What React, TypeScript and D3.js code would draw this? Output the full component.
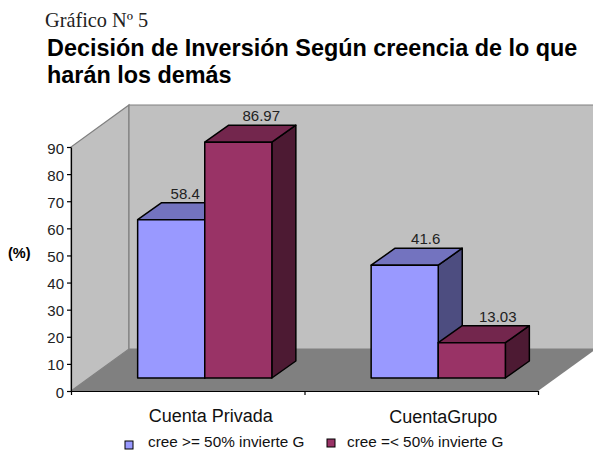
import React, { useEffect, useRef } from "react";
import * as d3 from "d3";

const categories = ["Cuenta Privada", "CuentaGrupo"];
const seriesNames = ["cree >= 50% invierte G", "cree =< 50% invierte G"];
const privada = [58.4, 86.97];
const grupo = [41.6, 13.03];
const yTicks = [0, 10, 20, 30, 40, 50, 60, 70, 80, 90];
const frontColors = ["#9999ff", "#993366"];
const topColors = ["#7373bf", "#73264d"];
const sideColors = ["#4d4d80", "#4d1a33"];

const sans = "'Liberation Sans', Arial, sans-serif";

export default function App() {
  const ref = useRef<SVGSVGElement>(null);

  useEffect(() => {
    const svg = d3.select(ref.current);
    svg.selectAll("*").remove();

    const y = d3.scaleLinear().domain([0, 90]).range([391, 147]);
    const x0 = d3.scaleBand().domain(categories).range([71, 538]);
    const x1 = d3
      .scaleBand()
      .domain(seriesNames)
      .range([0, x0.bandwidth()])
      .paddingInner(0)
      .paddingOuter(0.74);

    // wall depth and bar depth
    const wallDx = 58;
    const wallDy = 42;
    const barDx = 24;
    const barDy = 17;
    const baseDx = 17;
    const baseDy = 13;

    const x = 71;
    const r = 538;
    const top = y(90);
    const bot = y(0);
    const line = d3.line();

    // side wall, back wall, floor
    svg.append("path")
      .attr("d", line([[x, bot], [x, top], [x + wallDx, top - wallDy], [x + wallDx, bot - wallDy]]) + "Z")
      .attr("fill", "#c0c0c0")
      .attr("stroke", "#808080")
      .attr("stroke-width", 1.2);
    svg.append("path")
      .attr("d", line([[x + wallDx, bot - wallDy], [x + wallDx, top - wallDy], [r + wallDx, top - wallDy], [r + wallDx, bot - wallDy]]) + "Z")
      .attr("fill", "#c0c0c0")
      .attr("stroke", "#808080")
      .attr("stroke-width", 1.2);
    svg.append("path")
      .attr("d", line([[x, bot], [x + wallDx, bot - wallDy], [r + wallDx, bot - wallDy], [r, bot]]) + "Z")
      .attr("fill", "#808080");

    // bars
    const rows = [privada, grupo];
    const bars = svg.append("g").attr("stroke", "#000").attr("stroke-width", 1.5).attr("stroke-linejoin", "round");
    const labels = svg.append("g");
    // labels do not sit centred on the bar top in the original
    const labelShift = [[-10, -1], [-3, 2]];
    categories.forEach((cat, c) => {
      rows[c].forEach((v, s) => {
        const left = (x0(cat) as number) + (x1(seriesNames[s]) as number) + baseDx;
        const w = x1.bandwidth();
        const yTop = y(v) - baseDy;
        const yBase = y(0) - baseDy;
        const g = bars.append("g");
        g.append("path")
          .attr("d", line([[left + w, yTop], [left + w + barDx, yTop - barDy], [left + w + barDx, yBase - barDy], [left + w, yBase]]) + "Z")
          .attr("fill", sideColors[s]);
        g.append("path")
          .attr("d", line([[left, yTop], [left + barDx, yTop - barDy], [left + w + barDx, yTop - barDy], [left + w, yTop]]) + "Z")
          .attr("fill", topColors[s]);
        g.append("rect")
          .attr("x", left)
          .attr("y", yTop)
          .attr("width", w)
          .attr("height", yBase - yTop)
          .attr("fill", frontColors[s]);
        labels.append("text")
          .attr("x", left + w / 2 + barDx + labelShift[c][s])
          .attr("y", yTop - barDy - 4)
          .attr("text-anchor", "middle")
          .attr("font-family", sans)
          .attr("font-size", 15)
          .attr("fill", "#222")
          .text(v);
      });
    });

    // axes
    const yAxis = svg.append("g")
      .attr("transform", `translate(${x},0)`)
      .call(d3.axisLeft(y).tickValues(yTicks).tickSize(4).tickSizeOuter(0));
    const xAxis = svg.append("g")
      .attr("transform", `translate(0,${bot})`)
      .call(d3.axisBottom(d3.scaleLinear().domain([0, 2]).range([x, r])).ticks(2).tickSize(4).tickSizeOuter(0).tickFormat(() => ""));
    [yAxis, xAxis].forEach((a) => {
      a.selectAll("path,line").attr("stroke", "#000").attr("stroke-width", 1.2);
      a.selectAll("text").attr("font-family", sans).attr("font-size", 15).attr("fill", "#222");
    });
    yAxis.selectAll("text").attr("dy", "0.4em");

    const catShift = [23, 22];
    const catY = [422, 423];
    categories.forEach((cat, c) => {
      svg.append("text")
        .attr("x", (x0(cat) as number) + x0.bandwidth() / 2 + catShift[c])
        .attr("y", catY[c])
        .attr("text-anchor", "middle")
        .attr("font-family", sans)
        .attr("font-size", 18)
        .attr("fill", "#111")
        .text(cat);
    });

    // legend
    const legendX = [125, 327];
    const legendGap = [23, 20];
    seriesNames.forEach((name, s) => {
      svg.append("rect")
        .attr("x", legendX[s])
        .attr("y", s === 0 ? 441 : 439)
        .attr("width", 8)
        .attr("height", 8)
        .attr("fill", frontColors[s])
        .attr("stroke", "#000");
      svg.append("text")
        .attr("x", legendX[s] + legendGap[s])
        .attr("y", 446.5)
        .attr("font-family", sans)
        .attr("font-size", 15.3)
        .attr("fill", "#111")
        .text(name);
    });

    svg.append("text")
      .attr("x", 8)
      .attr("y", 258)
      .attr("font-family", sans)
      .attr("font-size", 14.5)
      .attr("font-weight", "bold")
      .text("(%)");

    // titles
    svg.append("text")
      .attr("x", 45)
      .attr("y", 27)
      .attr("font-family", "'Liberation Serif', 'Times New Roman', serif")
      .attr("font-size", 20.3)
      .attr("fill", "#222")
      .text("Gráfico Nº 5");
    ["Decisión de Inversión Según creencia de lo que", "harán los demás"].forEach((t, i) => {
      svg.append("text")
        .attr("x", 47)
        .attr("y", 55.5 + i * 27)
        .attr("font-family", sans)
        .attr("font-size", 23.4)
        .attr("font-weight", "bold")
        .attr("fill", "#000")
        .text(t);
    });
  }, []);

  return (
    <svg
      ref={ref}
      width={593}
      height={450}
      style={{ position: "absolute", left: 0, top: 0, background: "#fff" }}
    />
  );
}
